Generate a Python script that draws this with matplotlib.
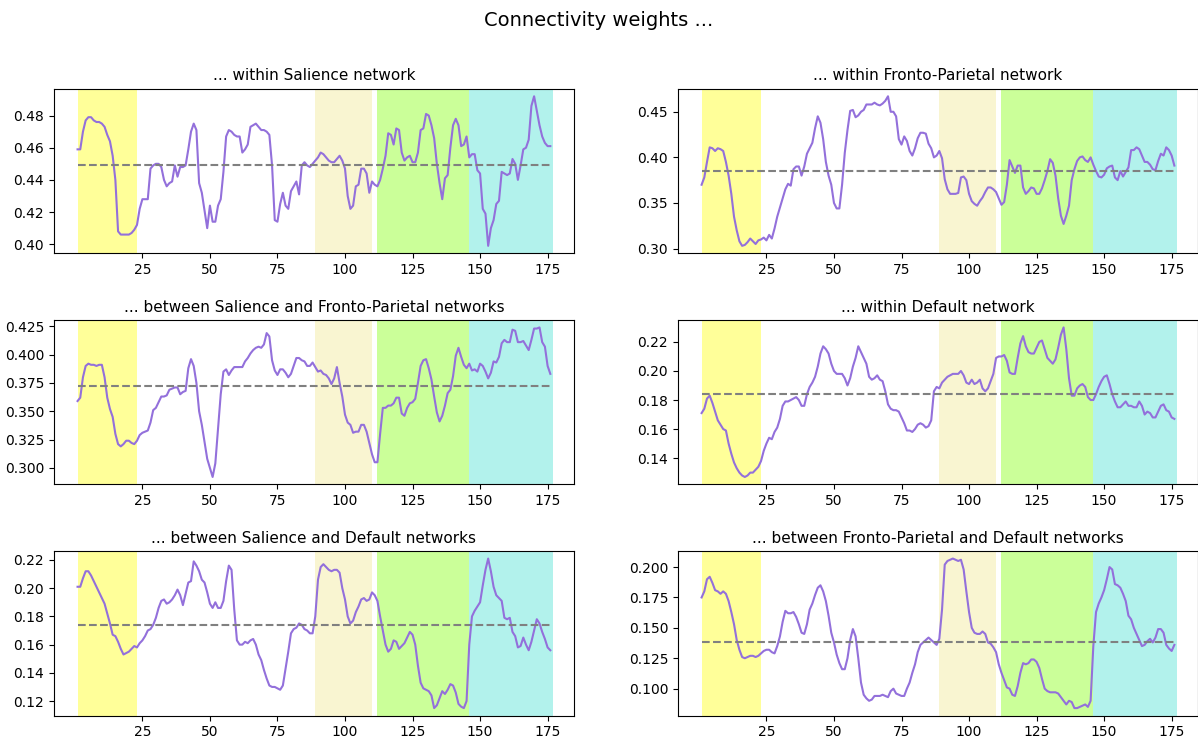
import matplotlib
matplotlib.use("Agg")
import matplotlib.pyplot as plt
import numpy as np

# time points 1..176, one value per point
sal_within = [
    0.459, 0.459, 0.470, 0.477, 0.479, 0.479, 0.477, 0.476, 0.476, 0.475,
    0.473, 0.468, 0.464, 0.455, 0.440, 0.408, 0.406, 0.406, 0.406, 0.406,
    0.407, 0.409, 0.412, 0.422, 0.428, 0.428, 0.428, 0.447, 0.449, 0.450,
    0.450, 0.448, 0.440, 0.436, 0.438, 0.439, 0.449, 0.442, 0.448, 0.448,
    0.449, 0.459, 0.470, 0.475, 0.471, 0.438, 0.432, 0.421, 0.410, 0.424,
    0.414, 0.414, 0.424, 0.428, 0.445, 0.467, 0.471, 0.470, 0.468, 0.467,
    0.467, 0.457, 0.459, 0.462, 0.473, 0.474, 0.475, 0.473, 0.471, 0.471,
    0.470, 0.468, 0.449, 0.415, 0.414, 0.425, 0.432, 0.424, 0.422, 0.433,
    0.436, 0.439, 0.431, 0.449, 0.451, 0.449, 0.448, 0.450, 0.452, 0.454,
    0.457, 0.456, 0.454, 0.452, 0.451, 0.451, 0.453, 0.455, 0.452, 0.447,
    0.430, 0.422, 0.424, 0.436, 0.437, 0.447, 0.447, 0.444, 0.432, 0.439,
    0.437, 0.436, 0.440, 0.447, 0.455, 0.469, 0.468, 0.462, 0.472, 0.471,
    0.457, 0.452, 0.454, 0.455, 0.451, 0.451, 0.457, 0.471, 0.472, 0.481,
    0.480, 0.474, 0.466, 0.450, 0.438, 0.428, 0.441, 0.443, 0.460, 0.474,
    0.478, 0.474, 0.461, 0.462, 0.467, 0.454, 0.456, 0.456, 0.446, 0.444,
    0.422, 0.419, 0.399, 0.410, 0.415, 0.425, 0.427, 0.445, 0.444, 0.443,
    0.444, 0.453, 0.450, 0.440, 0.449, 0.459, 0.460, 0.465, 0.486, 0.492,
    0.483, 0.474, 0.467, 0.463, 0.461, 0.461,
]

fp_within = [
    0.370, 0.378, 0.395, 0.411, 0.410, 0.407, 0.410, 0.409, 0.407, 0.395,
    0.380, 0.360, 0.335, 0.320, 0.308, 0.303, 0.304, 0.307, 0.311, 0.308,
    0.305, 0.309, 0.310, 0.312, 0.309, 0.315, 0.311, 0.322, 0.335, 0.345,
    0.355, 0.365, 0.371, 0.369, 0.387, 0.390, 0.390, 0.380, 0.390, 0.404,
    0.410, 0.416, 0.432, 0.445, 0.438, 0.420, 0.395, 0.380, 0.370, 0.350,
    0.344, 0.344, 0.370, 0.405, 0.430, 0.451, 0.452, 0.444, 0.446, 0.450,
    0.452, 0.458, 0.458, 0.458, 0.460, 0.458, 0.457, 0.459, 0.462, 0.467,
    0.450, 0.450, 0.445, 0.420, 0.414, 0.423, 0.418, 0.407, 0.402, 0.410,
    0.421, 0.427, 0.427, 0.426, 0.415, 0.410, 0.400, 0.402, 0.407, 0.399,
    0.376, 0.365, 0.360, 0.360, 0.360, 0.361, 0.378, 0.379, 0.375, 0.360,
    0.352, 0.349, 0.347, 0.352, 0.356, 0.362, 0.367, 0.367, 0.365, 0.362,
    0.355, 0.348, 0.351, 0.370, 0.397, 0.390, 0.383, 0.391, 0.391, 0.367,
    0.360, 0.363, 0.367, 0.366, 0.360, 0.360, 0.366, 0.375, 0.385, 0.398,
    0.394, 0.380, 0.355, 0.336, 0.327, 0.336, 0.347, 0.375, 0.387, 0.396,
    0.400, 0.401, 0.397, 0.395, 0.400, 0.392, 0.385, 0.379, 0.378, 0.381,
    0.388, 0.390, 0.391, 0.378, 0.375, 0.385, 0.379, 0.384, 0.389, 0.408,
    0.408, 0.411, 0.409, 0.402, 0.395, 0.395, 0.392, 0.387, 0.386, 0.396,
    0.404, 0.402, 0.411, 0.408, 0.402, 0.391,
]

sal_fp = [
    0.359, 0.362, 0.380, 0.390, 0.392, 0.391, 0.391, 0.390, 0.391, 0.391,
    0.380, 0.362, 0.352, 0.345, 0.330, 0.321, 0.319, 0.321, 0.324, 0.324,
    0.322, 0.321, 0.324, 0.329, 0.331, 0.332, 0.333, 0.340, 0.351, 0.353,
    0.358, 0.363, 0.363, 0.364, 0.369, 0.370, 0.371, 0.371, 0.365, 0.367,
    0.368, 0.388, 0.396, 0.390, 0.375, 0.350, 0.338, 0.323, 0.308, 0.300,
    0.292, 0.304, 0.335, 0.365, 0.385, 0.387, 0.382, 0.386, 0.389, 0.389,
    0.389, 0.389, 0.394, 0.397, 0.401, 0.404, 0.406, 0.407, 0.406, 0.409,
    0.419, 0.416, 0.395, 0.386, 0.382, 0.387, 0.387, 0.384, 0.380, 0.383,
    0.390, 0.397, 0.397, 0.395, 0.394, 0.390, 0.390, 0.393, 0.389, 0.385,
    0.386, 0.383, 0.382, 0.379, 0.374, 0.379, 0.389, 0.375, 0.363, 0.347,
    0.340, 0.338, 0.331, 0.332, 0.332, 0.338, 0.338, 0.332, 0.322, 0.312,
    0.305, 0.305, 0.330, 0.353, 0.353, 0.355, 0.355, 0.357, 0.362, 0.362,
    0.348, 0.346, 0.353, 0.357, 0.358, 0.361, 0.375, 0.390, 0.395, 0.396,
    0.388, 0.378, 0.363, 0.349, 0.341, 0.346, 0.355, 0.366, 0.369, 0.381,
    0.399, 0.406, 0.398, 0.391, 0.388, 0.392, 0.386, 0.387, 0.385, 0.392,
    0.390, 0.385, 0.379, 0.384, 0.394, 0.393, 0.398, 0.410, 0.413, 0.411,
    0.411, 0.422, 0.421, 0.411, 0.411, 0.412, 0.408, 0.404, 0.413, 0.423,
    0.423, 0.424, 0.411, 0.407, 0.390, 0.383,
]

dmn_within = [
    0.171, 0.174, 0.181, 0.183, 0.178, 0.172, 0.166, 0.163, 0.160, 0.159,
    0.150, 0.143, 0.137, 0.133, 0.130, 0.128, 0.127, 0.128, 0.130, 0.130,
    0.132, 0.134, 0.138, 0.145, 0.150, 0.154, 0.153, 0.158, 0.161, 0.167,
    0.176, 0.179, 0.179, 0.180, 0.181, 0.182, 0.180, 0.176, 0.176, 0.184,
    0.189, 0.192, 0.196, 0.203, 0.212, 0.217, 0.215, 0.212, 0.205, 0.200,
    0.198, 0.198, 0.198, 0.195, 0.190, 0.195, 0.203, 0.209, 0.217, 0.213,
    0.209, 0.205, 0.196, 0.194, 0.195, 0.197, 0.194, 0.193, 0.186, 0.177,
    0.174, 0.173, 0.173, 0.172, 0.168, 0.164, 0.159, 0.159, 0.158, 0.160,
    0.163, 0.164, 0.163, 0.161, 0.162, 0.166, 0.186, 0.189, 0.188, 0.192,
    0.194, 0.196, 0.197, 0.198, 0.198, 0.198, 0.200, 0.197, 0.192, 0.191,
    0.194, 0.191, 0.192, 0.194, 0.188, 0.186, 0.188, 0.193, 0.198, 0.209,
    0.210, 0.210, 0.211, 0.207, 0.199, 0.198, 0.198, 0.209, 0.219, 0.224,
    0.217, 0.213, 0.212, 0.212, 0.216, 0.220, 0.221, 0.215, 0.209, 0.207,
    0.205, 0.208, 0.216, 0.225, 0.230, 0.215, 0.195, 0.183, 0.183, 0.188,
    0.190, 0.191, 0.189, 0.182, 0.180, 0.180, 0.184, 0.189, 0.193, 0.196,
    0.197, 0.191, 0.184, 0.179, 0.175, 0.175, 0.177, 0.179, 0.176, 0.176,
    0.175, 0.175, 0.179, 0.176, 0.170, 0.172, 0.171, 0.168, 0.168, 0.172,
    0.176, 0.177, 0.173, 0.172, 0.168, 0.167,
]

sal_dmn = [
    0.201, 0.201, 0.207, 0.212, 0.212, 0.209, 0.205, 0.201, 0.197, 0.193,
    0.189, 0.182, 0.175, 0.167, 0.166, 0.162, 0.157, 0.153, 0.154, 0.155,
    0.157, 0.159, 0.158, 0.161, 0.163, 0.166, 0.170, 0.171, 0.174, 0.179,
    0.186, 0.191, 0.192, 0.189, 0.190, 0.192, 0.195, 0.199, 0.195, 0.188,
    0.196, 0.204, 0.205, 0.219, 0.216, 0.212, 0.206, 0.204, 0.197, 0.189,
    0.186, 0.190, 0.186, 0.186, 0.191, 0.205, 0.216, 0.213, 0.185, 0.163,
    0.160, 0.160, 0.162, 0.161, 0.163, 0.164, 0.160, 0.153, 0.149, 0.142,
    0.136, 0.131, 0.130, 0.130, 0.129, 0.128, 0.131, 0.143, 0.155, 0.168,
    0.171, 0.172, 0.175, 0.174, 0.171, 0.170, 0.168, 0.168, 0.180, 0.206,
    0.215, 0.217, 0.215, 0.213, 0.212, 0.213, 0.213, 0.211, 0.200, 0.192,
    0.180, 0.175, 0.177, 0.183, 0.187, 0.192, 0.193, 0.191, 0.192, 0.197,
    0.195, 0.191, 0.180, 0.170, 0.160, 0.155, 0.157, 0.163, 0.162, 0.157,
    0.159, 0.161, 0.165, 0.169, 0.167, 0.160, 0.145, 0.133, 0.129, 0.128,
    0.127, 0.124, 0.115, 0.117, 0.122, 0.127, 0.125, 0.128, 0.132, 0.131,
    0.126, 0.118, 0.116, 0.115, 0.120, 0.160, 0.180, 0.184, 0.187, 0.190,
    0.202, 0.213, 0.221, 0.212, 0.201, 0.195, 0.193, 0.191, 0.179, 0.178,
    0.179, 0.169, 0.166, 0.158, 0.159, 0.165, 0.160, 0.156, 0.162, 0.170,
    0.178, 0.175, 0.169, 0.164, 0.158, 0.156,
]

fp_dmn = [
    0.175, 0.180, 0.190, 0.192, 0.187, 0.181, 0.180, 0.178, 0.180, 0.178,
    0.172, 0.163, 0.153, 0.140, 0.132, 0.126, 0.125, 0.126, 0.127, 0.127,
    0.126, 0.127, 0.129, 0.131, 0.132, 0.132, 0.130, 0.129, 0.135, 0.143,
    0.155, 0.164, 0.162, 0.162, 0.163, 0.159, 0.153, 0.146, 0.145, 0.153,
    0.165, 0.170, 0.177, 0.183, 0.185, 0.180, 0.172, 0.160, 0.146, 0.138,
    0.128, 0.121, 0.116, 0.116, 0.125, 0.140, 0.149, 0.143, 0.125, 0.105,
    0.095, 0.092, 0.090, 0.091, 0.094, 0.094, 0.094, 0.095, 0.094, 0.093,
    0.098, 0.100, 0.096, 0.095, 0.094, 0.094, 0.100, 0.105, 0.113, 0.120,
    0.130, 0.136, 0.138, 0.140, 0.142, 0.140, 0.138, 0.136, 0.141, 0.165,
    0.202, 0.205, 0.206, 0.207, 0.206, 0.205, 0.206, 0.198, 0.180, 0.163,
    0.150, 0.146, 0.145, 0.145, 0.147, 0.145, 0.138, 0.137, 0.134, 0.130,
    0.120, 0.113, 0.107, 0.101, 0.100, 0.095, 0.094, 0.102, 0.113, 0.121,
    0.120, 0.121, 0.124, 0.124, 0.122, 0.117, 0.108, 0.100, 0.098, 0.097,
    0.097, 0.097, 0.096, 0.093, 0.090, 0.087, 0.090, 0.089, 0.084, 0.084,
    0.085, 0.086, 0.087, 0.085, 0.090, 0.135, 0.163, 0.170, 0.175, 0.181,
    0.190, 0.200, 0.198, 0.186, 0.185, 0.183, 0.178, 0.172, 0.160, 0.157,
    0.150, 0.145, 0.140, 0.135, 0.136, 0.139, 0.141, 0.138, 0.142, 0.149,
    0.149, 0.146, 0.136, 0.133, 0.131, 0.136,
]

series = [sal_within, fp_within, sal_fp, dmn_within, sal_dmn, fp_dmn]
titles = [
    "... within Salience network",
    "... within Fronto-Parietal network",
    "... between Salience and Fronto-Parietal networks",
    "... within Default network",
    "... between Salience and Default networks",
    "... between Fronto-Parietal and Default networks",
]
means = [0.449, 0.385, 0.372, 0.184, 0.174, 0.138]

# y tick values shown on each panel
yticks = [
    [0.40, 0.42, 0.44, 0.46, 0.48],
    [0.30, 0.35, 0.40, 0.45],
    [0.300, 0.325, 0.350, 0.375, 0.400, 0.425],
    [0.14, 0.16, 0.18, 0.20, 0.22],
    [0.12, 0.14, 0.16, 0.18, 0.20, 0.22],
    [0.100, 0.125, 0.150, 0.175, 0.200],
]

# task blocks (start, end, colour)
block_start = [1, 89, 112, 146]
block_end = [23, 110, 146, 177]
block_color = ["yellow", "khaki", "chartreuse", "turquoise"]

xticks = [25, 50, 75, 100, 125, 150, 175]


def dibujar(ax, valores, titulo, media, marcas_y):
    x = np.arange(1, len(valores) + 1)
    for a, b, c in zip(block_start, block_end, block_color):
        ax.axvspan(a, b, color=c, alpha=0.4, linewidth=0)
    ax.plot(x, valores, color="mediumpurple", linewidth=1.5)
    ax.hlines(media, x[0], x[-1], colors="grey", linestyles="--", linewidth=1.5)
    ax.set_title(titulo, fontsize=11)
    ax.set_xticks(xticks)
    ax.set_yticks(marcas_y)
    ax.set_xlim(-7.75, 184.75)
    ax.tick_params(labelsize=10)


fig, axes = plt.subplots(3, 2, figsize=(11.98, 7.4), dpi=100)
fig.subplots_adjust(left=0.045, right=1.0, bottom=0.033, top=0.88,
                    wspace=0.2, hspace=0.405)
fig.suptitle("Connectivity weights ...", fontsize=14, y=0.985)

for i, ax in enumerate(axes.flat):
    dibujar(ax, series[i], titles[i], means[i], yticks[i])

fig.savefig("out.png", dpi=100)
